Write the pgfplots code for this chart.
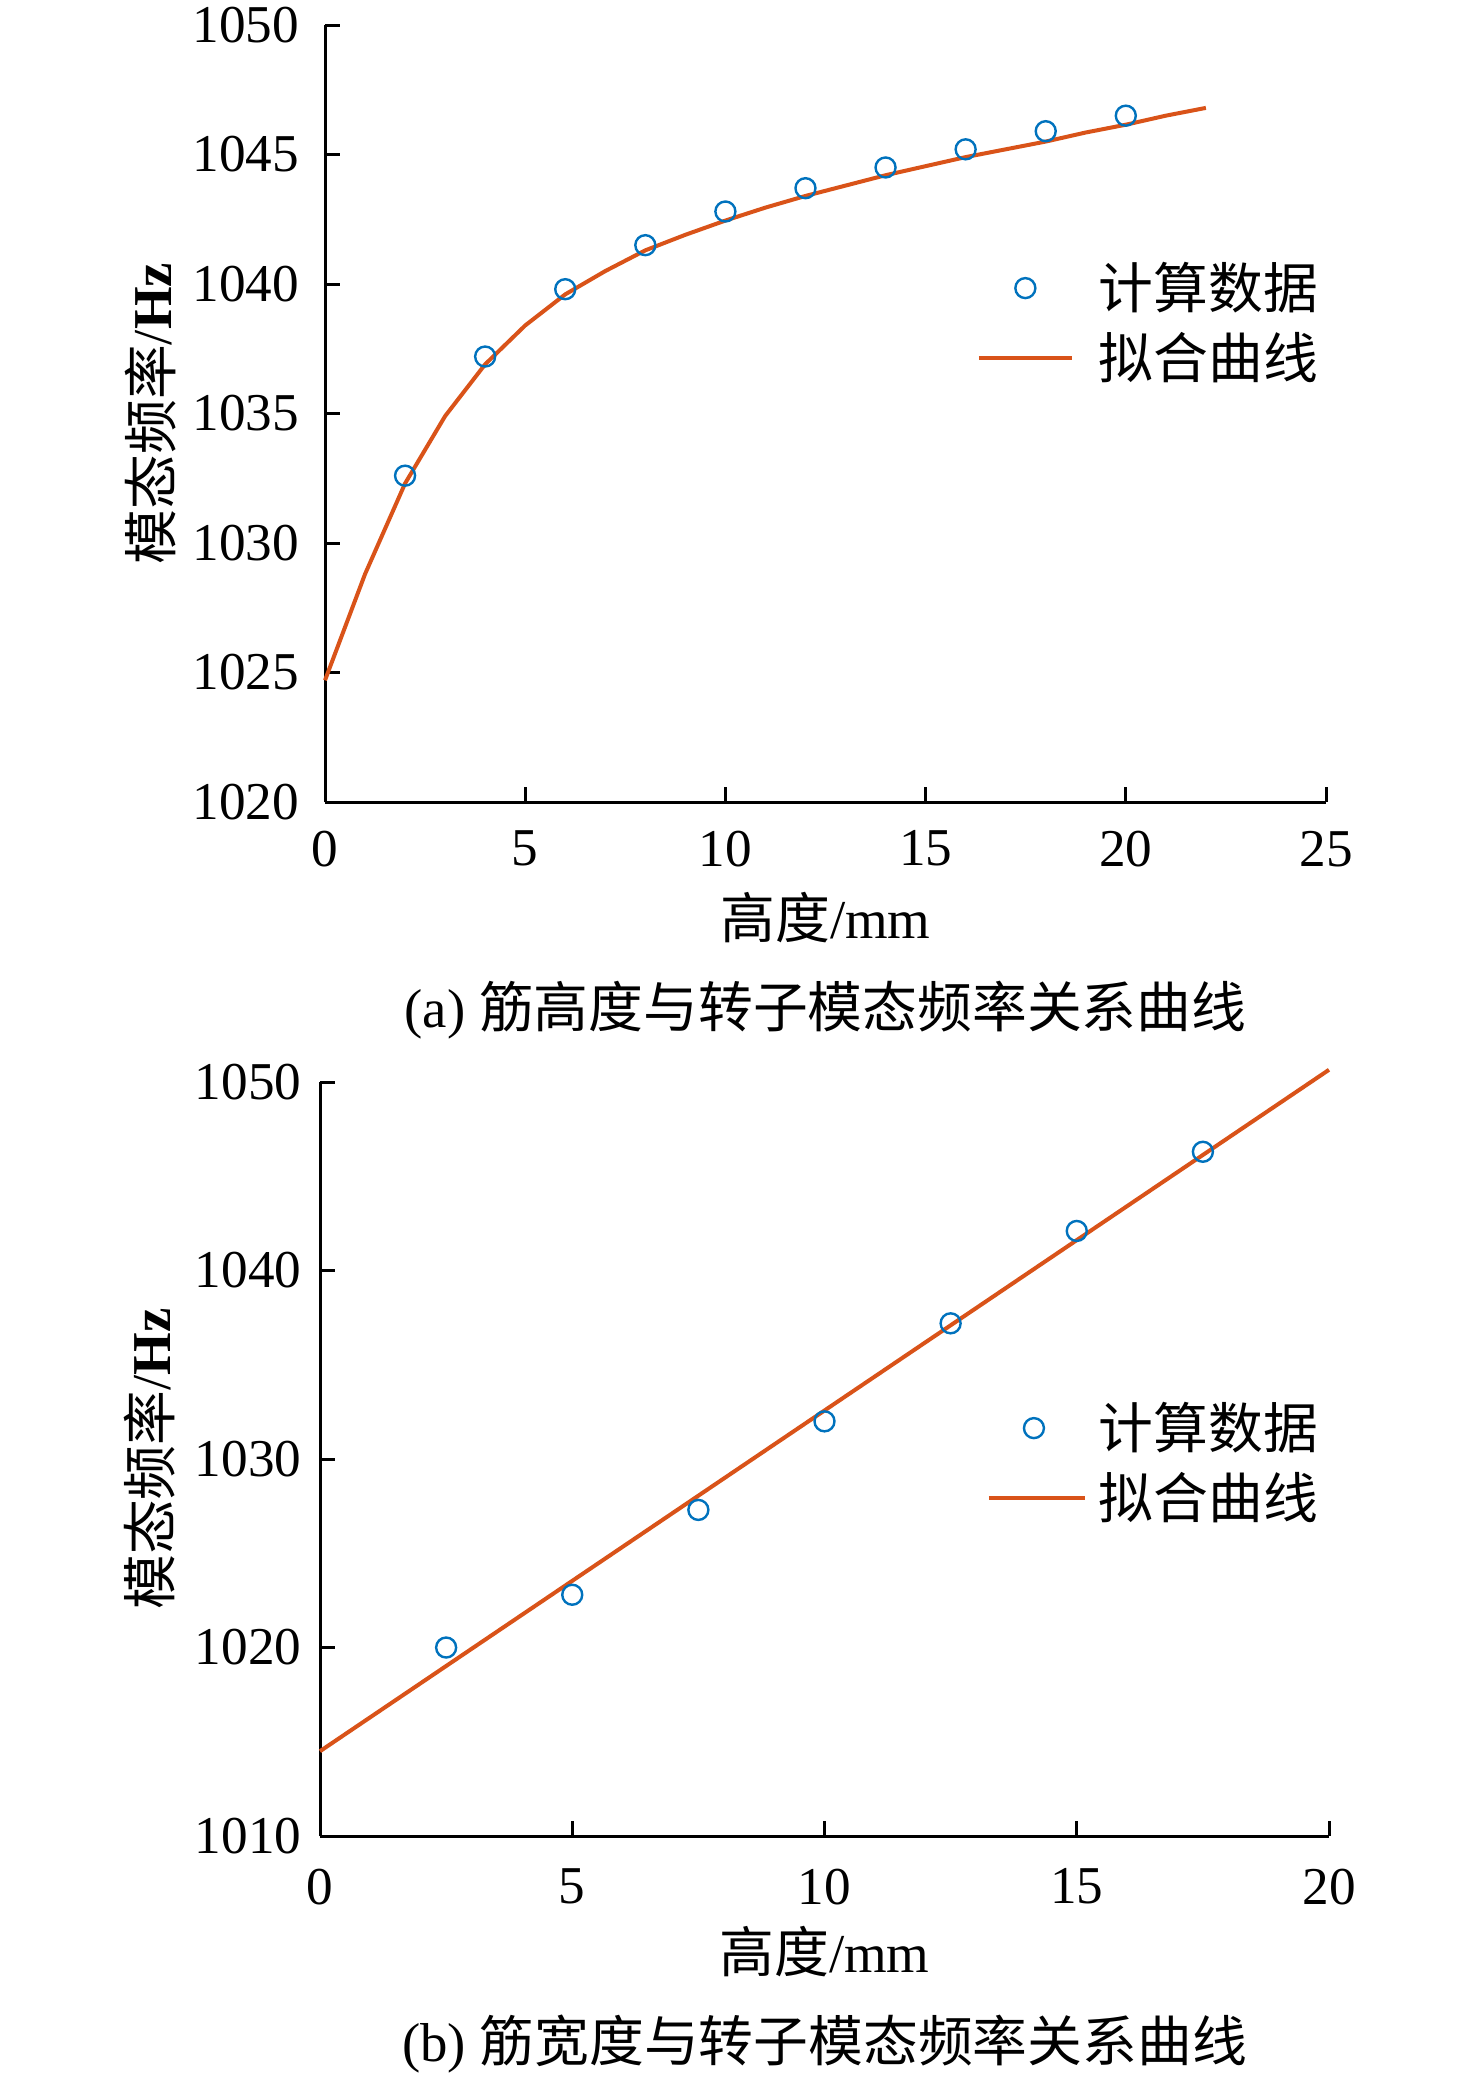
\documentclass[border=0pt]{standalone}
\usepackage{fontspec}
\setmainfont{Liberation Serif}
\newfontfamily\cjk{Noto Sans CJK SC}
\usepackage{pgfplots}
\pgfplotsset{compat=1.18}
\definecolor{mblue}{RGB}{0,114,189}
\definecolor{morange}{RGB}{217,83,25}
\newcommand{\txtfont}{\fontsize{13.7}{16}\selectfont}
\pgfplotsset{
  myax/.style={
    scale only axis,
    axis x line*=bottom, axis y line*=left,
    axis line style={line width=0.75pt,-},
    every tick/.style={line width=0.75pt,black},
    major tick length=3.75pt,
    tick align=inside,
    /pgf/number format/assume math mode=true,
    /pgf/number format/1000 sep={},
    ticklabel style={font=\fontsize{13.3}{15}\selectfont},
    yticklabel style={anchor=east,inner sep=0pt},
    xticklabel style={anchor=north,inner sep=0pt},
    xlabel={{\cjk 高度}/mm},
    ylabel={{\cjk 模态频率}/\textbf{Hz}},
    label style={font=\txtfont,inner sep=0pt},
    legend cell align=left,
  }
}
\begin{document}
\begin{tikzpicture}
\path[use as bounding box] (0,0) rectangle (369pt,-519.5pt);
% ---------------- (a) ----------------
\begin{axis}[myax,
  at={(81.25pt,-200.5pt)}, anchor=south west,
  width=250.25pt, height=194.25pt,
  xmin=0, xmax=25, ymin=1020, ymax=1050,
  xtick={0,5,10,15,20,25},
  ytick={1020,1025,1030,1035,1040,1045,1050},
  yticklabel style={xshift=-6.25pt},
  xticklabel style={yshift=-7pt},
  xlabel style={at={(axis description cs:0.5,0)},anchor=center,yshift=-29pt},
  ylabel style={at={(axis description cs:-0.1738,0.5)},anchor=center},
  clip=false,
  legend image code/.code={\draw[mark repeat=2,mark phase=2,#1] plot coordinates {(0pt,0pt) (11.6pt,0pt) (23.25pt,0pt)};},
  legend style={draw=none,fill=none,at={(0.6513,0.6165)},anchor=west,
    inner sep=0pt,outer sep=0pt,row sep=4.4pt,column sep=6.25pt,
    font=\txtfont\cjk,nodes={inner sep=0pt}},
]
\addplot[only marks, mark=o, mark size=2.5pt, color=mblue, mark options={line width=0.6pt}] coordinates {
(2,1032.6) (4,1037.2) (6,1039.8) (8,1041.5) (10,1042.8)
(12,1043.7) (14,1044.5) (16,1045.2) (18,1045.9) (20,1046.5)
};
\addplot[color=morange, line width=1pt, no marks] coordinates {
(0,1024.7) (1,1028.8) (2,1032.3) (3,1034.9) (4,1036.9) (5,1038.4)
(6,1039.6) (7,1040.5) (8,1041.3) (9,1041.9) (10,1042.45) (11,1042.95)
(12,1043.4) (13,1043.8) (14,1044.2) (15,1044.55) (16,1044.9) (17,1045.2)
(18,1045.5) (19,1045.85) (20,1046.15) (21,1046.5) (22,1046.8)
};
\legend{计算数据,拟合曲线}
\node[font=\txtfont,inner sep=0pt,yshift=-52pt] at (axis description cs:0.5,0) {(a) {\cjk 筋高度与转子模态频率关系曲线}};
\end{axis}
% ---------------- (b) ----------------
\begin{axis}[myax,
  at={(80pt,-459pt)}, anchor=south west,
  width=252.25pt, height=188.5pt,
  xmin=0, xmax=20, ymin=1010, ymax=1050,
  xtick={0,5,10,15,20},
  ytick={1010,1020,1030,1040,1050},
  yticklabel style={xshift=-4.5pt},
  xticklabel style={yshift=-8pt},
  xlabel style={at={(axis description cs:0.5,0)},anchor=center,yshift=-29pt},
  ylabel style={at={(axis description cs:-0.1685,0.5)},anchor=center},
  clip=false,
  legend image code/.code={\draw[mark repeat=2,mark phase=2,#1] plot coordinates {(0pt,0pt) (11.25pt,0pt) (24pt,0pt)};},
  legend style={draw=none,fill=none,at={(0.661,0.4947)},anchor=west,
    inner sep=0pt,outer sep=0pt,row sep=4.4pt,column sep=3pt,
    font=\txtfont\cjk,nodes={inner sep=0pt}},
]
\addplot[only marks, mark=o, mark size=2.5pt, color=mblue, mark options={line width=0.6pt}] coordinates {
(2.5,1020.0) (5,1022.8) (7.5,1027.3) (10,1032.0) (12.5,1037.2) (15,1042.1) (17.5,1046.3)
};
\addplot[color=morange, line width=1pt, no marks] coordinates {
(0,1014.5) (20,1050.65)
};
\legend{计算数据,拟合曲线}
\node[font=\txtfont,inner sep=0pt,yshift=-52pt] at (axis description cs:0.5,0) {(b) {\cjk 筋宽度与转子模态频率关系曲线}};
\end{axis}
\end{tikzpicture}
\end{document}
